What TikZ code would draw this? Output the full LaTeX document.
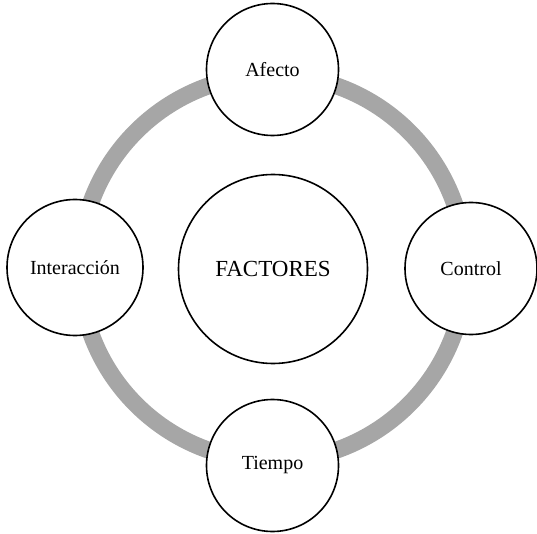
\documentclass[tikz,border=0pt]{standalone}
\usepackage{fontspec}
\setmainfont{Liberation Serif}
\usepackage{xcolor}
\usepackage{tikz}

\definecolor{GrisAnillo}{HTML}{A6A6A6}

\begin{document}
\begin{tikzpicture}[x=1pt,y=1pt,
  anillo/.style={draw=GrisAnillo,line width=17pt},
  factor/.style={circle,draw=black,line width=1.6pt,fill=white,inner sep=0pt,
    minimum size=132pt,font=\fontsize{20}{24}\selectfont},
  centro/.style={factor,minimum size=189pt,font=\fontsize{23}{27}\selectfont}]
\useasboundingbox (0,0) rectangle (537,533);
%
%          Afecto
% Interaccion  FACTORES  Control
%          Tiempo
%
\coordinate (ctr) at (272.5,265);
\draw[anillo] (ctr) circle (193pt);
%
\newcommand{\factor}[4]{
  \node[factor] (#1) at (#2, #3) {#4};
}
%
\node[centro] (factores) at (273,264) {FACTORES};
\factor{afecto}{272.5}{463.5}{Afecto}
\factor{control}{471}{264.5}{Control}
\factor{tiempo}{272.5}{67.5}{Tiempo}
\node[factor,minimum size=136pt] (interaccion) at (75,265.5) {Interacción};
%
\end{tikzpicture}
\end{document}
